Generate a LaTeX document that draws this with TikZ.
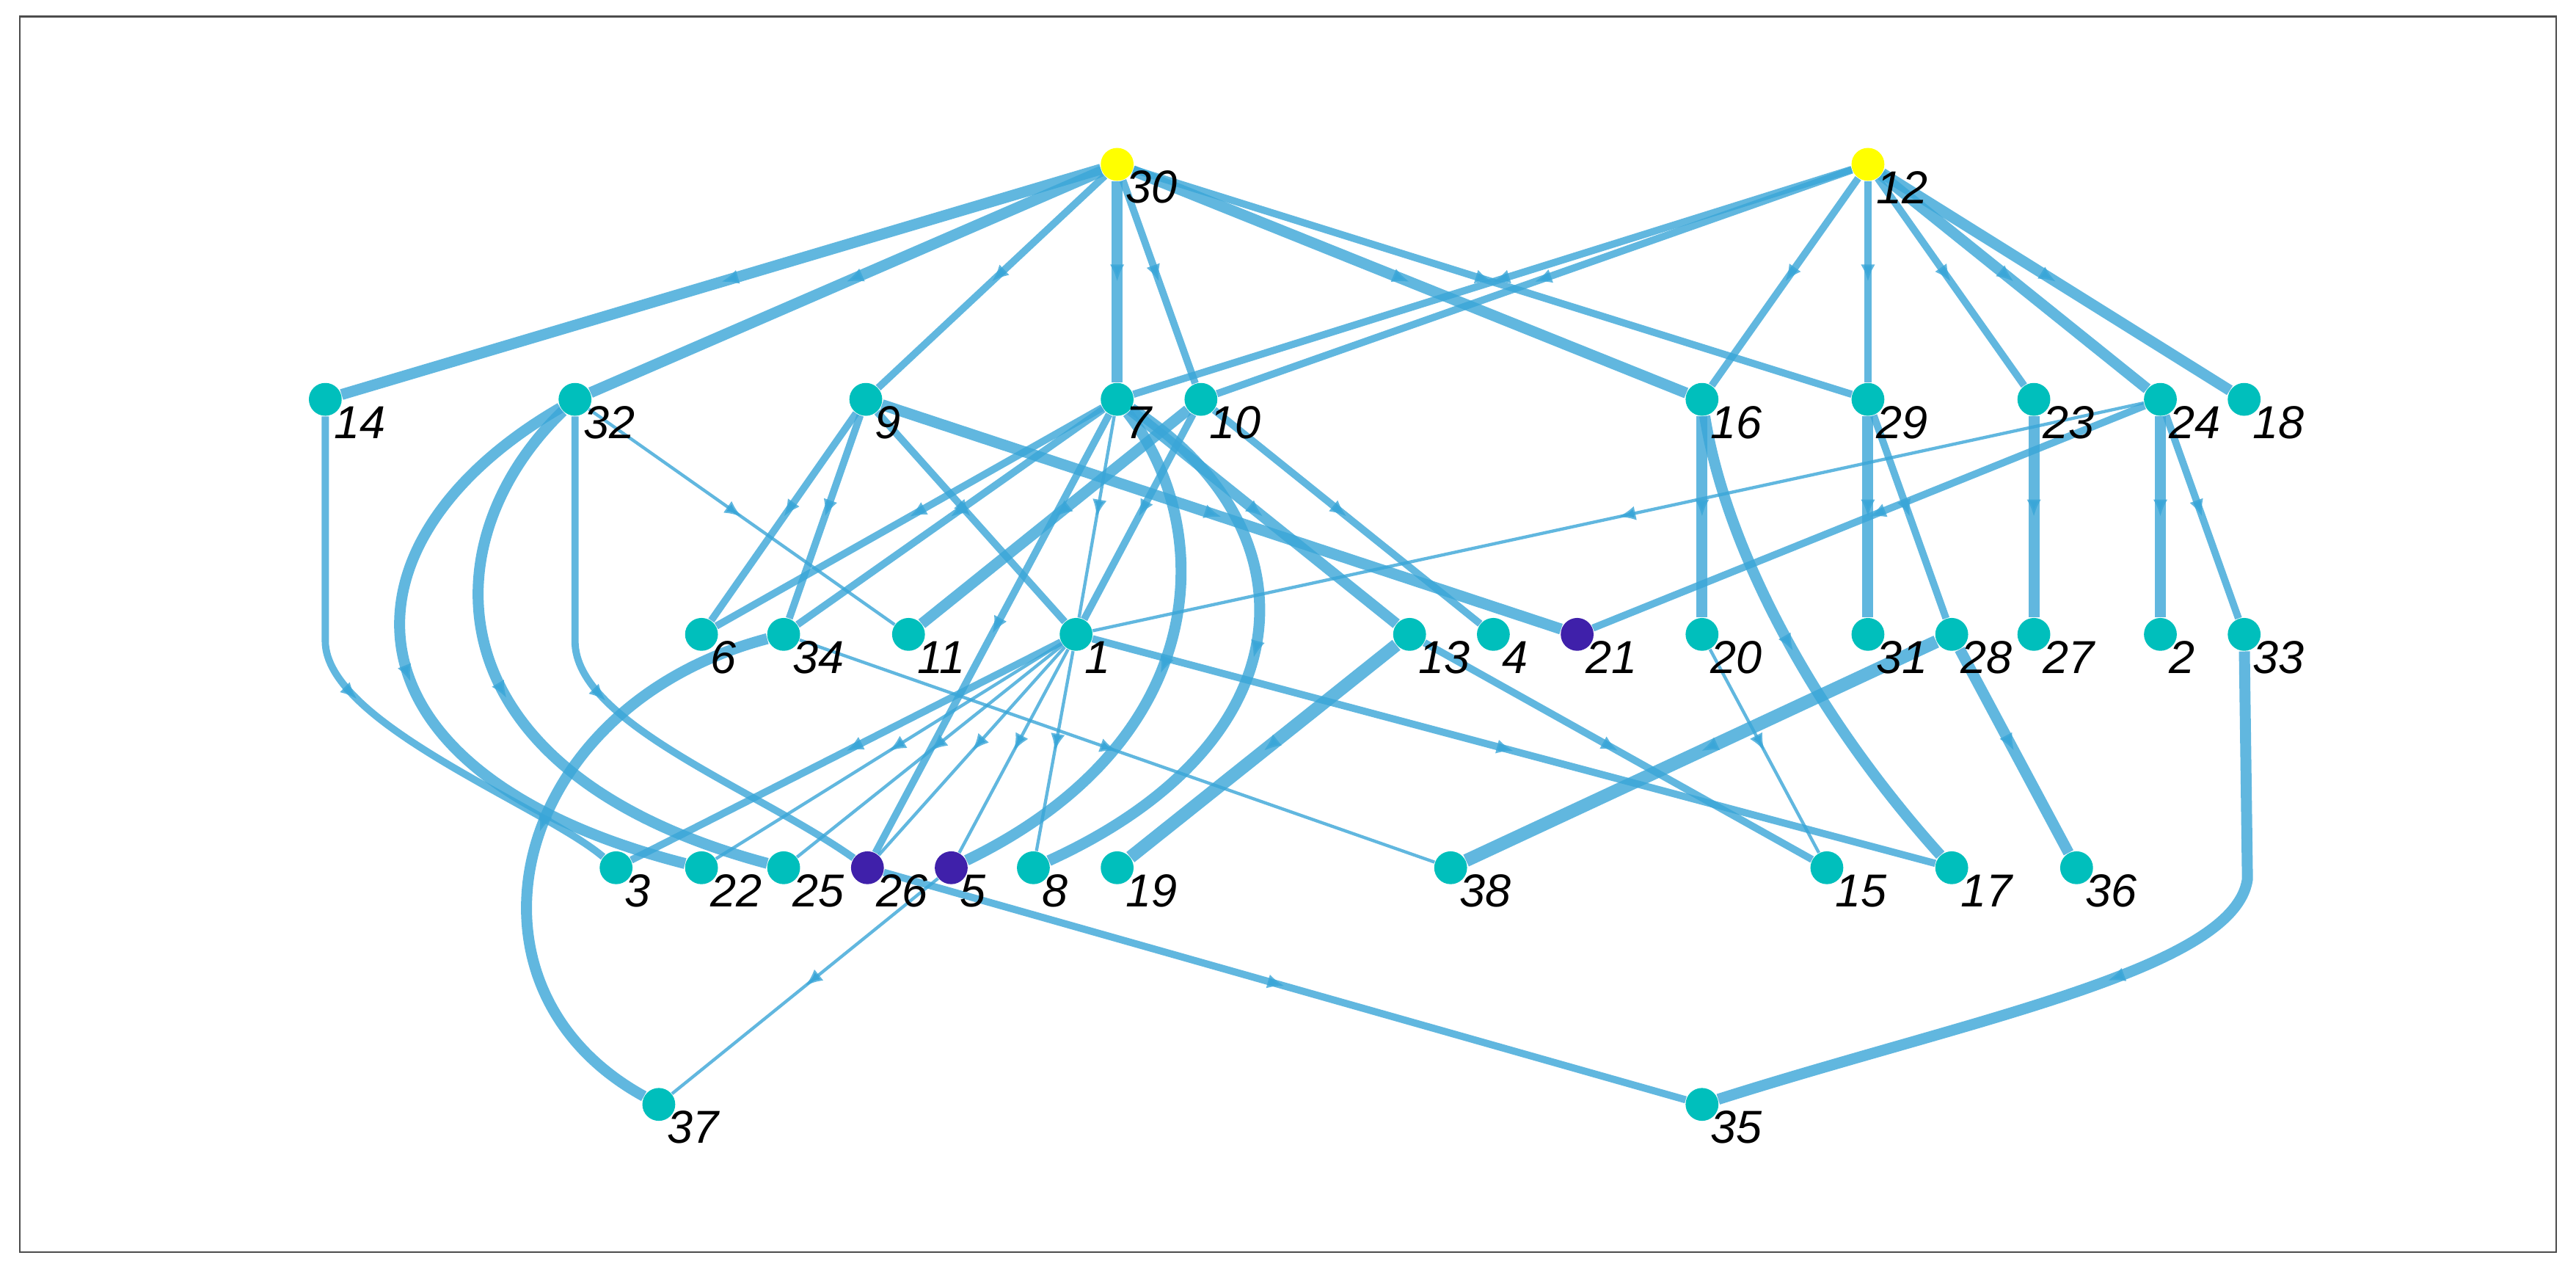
\documentclass[tikz,border=0pt]{standalone}
\usepackage{fontspec}
\setmainfont{Liberation Sans}
\usetikzlibrary{arrows.meta,decorations.markings,backgrounds}
\definecolor{ec}{HTML}{3AA6D8}
\definecolor{tealn}{HTML}{00BFBC}
\definecolor{yel}{HTML}{FFFF00}
\definecolor{pur}{HTML}{3F20AA}
\tikzset{
  nd/.style={circle,inner sep=0pt,minimum size=0.4cm,fill=tealn},
  ndy/.style={nd,fill=yel},
  ndp/.style={nd,fill=pur},
  lab/.style={anchor=west,inner sep=0pt,font=\itshape\fontsize{16}{16}\selectfont},
  e/.style={draw=ec,draw opacity=0.8,line width=2.5pt,postaction={decorate},
    decoration={markings,mark=at position 0.5 with {\arrow[ec]{Latex[length=6pt,width=5pt]}}}},
  ek/.style={e,line width=3.8pt},
  et/.style={e,line width=1.1pt}
}
\newcommand\gnode[5]{\node[#5] (n#1) at (#2,#3) {}; \path (#2,#3) ++(5,14) node[lab] {#4};}
\begin{document}
\begin{tikzpicture}[x=0.02cm,y=-0.02cm]
\useasboundingbox (0,0) rectangle (1568,772);
\gnode{30}{680}{100}{30}{ndy}
\gnode{12}{1137}{100}{12}{ndy}
\gnode{14}{198}{243}{14}{nd}
\gnode{32}{350}{243}{32}{nd}
\gnode{9}{527}{243}{9}{nd}
\gnode{7}{680}{243}{7}{nd}
\gnode{10}{731}{243}{10}{nd}
\gnode{16}{1036}{243}{16}{nd}
\gnode{29}{1137}{243}{29}{nd}
\gnode{23}{1238}{243}{23}{nd}
\gnode{24}{1315}{243}{24}{nd}
\gnode{18}{1366}{243}{18}{nd}
\gnode{6}{427}{386}{6}{nd}
\gnode{34}{477}{386}{34}{nd}
\gnode{11}{553}{386}{11}{nd}
\gnode{1}{655}{386}{1}{nd}
\gnode{13}{858}{386}{13}{nd}
\gnode{4}{909}{386}{4}{nd}
\gnode{21}{960}{386}{21}{ndp}
\gnode{20}{1036}{386}{20}{nd}
\gnode{31}{1137}{386}{31}{nd}
\gnode{28}{1188}{386}{28}{nd}
\gnode{27}{1238}{386}{27}{nd}
\gnode{2}{1315}{386}{2}{nd}
\gnode{33}{1366}{386}{33}{nd}
\gnode{3}{375}{528}{3}{nd}
\gnode{22}{427}{528}{22}{nd}
\gnode{25}{477}{528}{25}{nd}
\gnode{26}{528}{528}{26}{ndp}
\gnode{5}{579}{528}{5}{ndp}
\gnode{8}{629}{528}{8}{nd}
\gnode{19}{680}{528}{19}{nd}
\gnode{38}{883}{528}{38}{nd}
\gnode{15}{1112}{528}{15}{nd}
\gnode{17}{1188}{528}{17}{nd}
\gnode{36}{1264}{528}{36}{nd}
\gnode{37}{401}{672}{37}{nd}
\gnode{35}{1036}{672}{35}{nd}
\begin{pgfonlayer}{background}
\fill[white] (0,0) rectangle (1568,772);
\draw[black!70,line width=0.6pt] (12,10) rectangle (1556,762);
% from 30
\draw[ek] (n30) -- (n14);
\draw[ek] (n30) -- (n32);
\draw[e] (n30) -- (n9);
\draw[ek] (n30) -- (n7);
\draw[e] (n30) -- (n10);
\draw[ek] (n30) -- (n16);
\draw[e] (n30) -- (n29);
% from 12
\draw[e] (n12) -- (n7);
\draw[e] (n12) -- (n10);
\draw[e] (n12) -- (n16);
\draw[e] (n12) -- (n29);
\draw[e] (n12) -- (n23);
\draw[ek] (n12) -- (n24);
\draw[ek] (n12) -- (n18);
% curves left
\draw[e] (n14) -- (198,390) .. controls (198,440) and (330,490) .. (n3);
\draw[ek] (n32) .. controls (200,330) and (200,470) .. (n22);
\draw[ek] (n32) .. controls (260,330) and (260,470) .. (n25);
\draw[e] (n32) -- (350,390) .. controls (350,440) and (460,480) .. (n26);
\draw[et] (n32) -- (n11);
% from 9
\draw[e] (n9) -- (n6);
\draw[e] (n9) -- (n34);
\draw[e] (n9) -- (n1);
\draw[ek] (n9) -- (n21);
% from 7
\draw[e] (n7) -- (n6);
\draw[e] (n7) -- (n34);
\draw[et] (n7) -- (n1);
\draw[e] (n7) -- (n26);
\draw[ek] (n7) .. controls (740,320) and (740,450) .. (n5);
\draw[ek] (n7) .. controls (800,320) and (800,450) .. (n8);
\draw[ek] (n7) -- (n13);
% from 10
\draw[ek] (n10) -- (n11);
\draw[e] (n10) -- (n1);
\draw[e] (n10) -- (n4);
% from 1
\draw[e] (n1) -- (n3);
\draw[et] (n1) -- (n22);
\draw[et] (n1) -- (n25);
\draw[et] (n1) -- (n26);
\draw[et] (n1) -- (n5);
\draw[et] (n1) -- (n8);
\draw[e] (n1) -- (n17);
% right part
\draw[et] (n24) -- (n1);
\draw[e] (n24) -- (n21);
\draw[ek] (n24) -- (n2);
\draw[e] (n24) -- (n33);
\draw[ek] (n16) -- (n20);
\draw[ek] (n16) .. controls (1050,330) and (1100,430) .. (n17);
\draw[ek] (n29) -- (n31);
\draw[e] (n29) -- (n28);
\draw[ek] (n28) -- (n36);
\draw[ek] (n23) -- (n27);
\draw[et] (n20) -- (n15);
\draw[e] (n13) -- (n15);
\draw[ek,line width=4.5pt] (n13) -- (n19);
\draw[ek,line width=4.5pt] (n28) -- (n38);
\draw[et] (n34) -- (n38);
\draw[ek] (n34) .. controls (310,430) and (270,600) .. (n37);
\draw[et] (n5) -- (n37);
\draw[e] (n26) -- (n35);
\draw[ek] (n33) -- (1368,535) .. controls (1360,590) and (1200,620) .. (n35);
\end{pgfonlayer}
\end{tikzpicture}
\end{document}
